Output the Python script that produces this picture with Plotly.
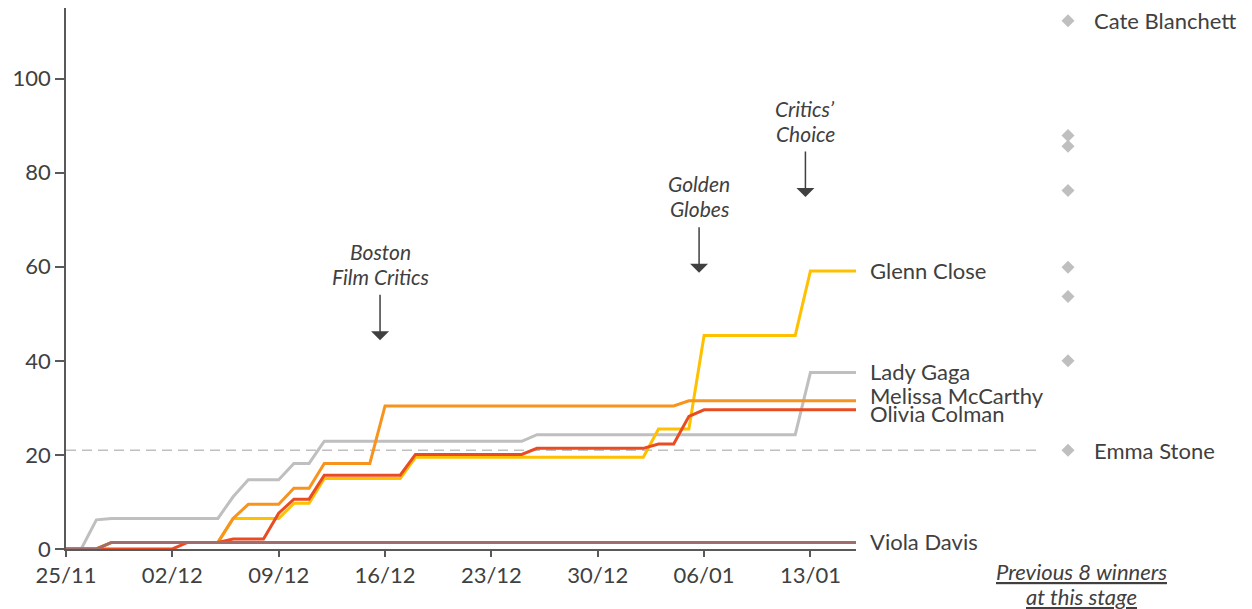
import plotly.graph_objects as go
import pandas as pd

# ---------------- data ----------------
dates = pd.date_range("2018-11-25", "2019-01-16", freq="D")

glenn_close = [0, 0, 0, 1.4, 1.4, 1.4, 1.4, 1.4, 1.4, 1.4, 1.4,
               6.5, 6.5, 6.5, 6.5, 9.7, 9.7,
               15.0, 15.0, 15.0, 15.0, 15.0, 15.0,
               19.5, 19.5, 19.5, 19.5, 19.5, 19.5, 19.5, 19.5,
               19.5, 19.5, 19.5, 19.5, 19.5, 19.5, 19.5, 19.5,
               25.5, 25.5, 25.5,
               45.4, 45.4, 45.4, 45.4, 45.4, 45.4, 45.4,
               59.1, 59.1, 59.1, 59.1]

lady_gaga = [0, 0, 6.2, 6.5, 6.5, 6.5, 6.5, 6.5, 6.5, 6.5, 6.5,
             11.1, 14.7, 14.7, 14.7, 18.2, 18.2,
             22.9, 22.9, 22.9, 22.9, 22.9, 22.9, 22.9,
             22.9, 22.9, 22.9, 22.9, 22.9, 22.9, 22.9,
             24.3, 24.3, 24.3, 24.3, 24.3, 24.3, 24.3, 24.3, 24.3,
             24.3, 24.3, 24.3, 24.3, 24.3, 24.3, 24.3, 24.3, 24.3,
             37.5, 37.5, 37.5, 37.5]

melissa_mccarthy = [0, 0, 0, 1.4, 1.4, 1.4, 1.4, 1.4, 1.4, 1.4, 1.4,
                    6.5, 9.5, 9.5, 9.5, 12.9, 12.9,
                    18.2, 18.2, 18.2, 18.2,
                    30.4, 30.4, 30.4, 30.4, 30.4, 30.4, 30.4, 30.4, 30.4, 30.4,
                    30.4, 30.4, 30.4, 30.4, 30.4, 30.4, 30.4, 30.4, 30.4, 30.4,
                    31.5, 31.5, 31.5, 31.5, 31.5, 31.5, 31.5, 31.5, 31.5, 31.5,
                    31.5, 31.5]

olivia_colman = [0, 0, 0, 0, 0, 0, 0, 0, 1.4, 1.4, 1.4,
                 2.1, 2.1, 2.1, 7.6, 10.6, 10.6,
                 15.7, 15.7, 15.7, 15.7, 15.7, 15.7,
                 20.1, 20.1, 20.1, 20.1, 20.1, 20.1, 20.1, 20.1,
                 21.4, 21.4, 21.4, 21.4, 21.4, 21.4, 21.4, 21.4,
                 22.3, 22.3, 28.2,
                 29.6, 29.6, 29.6, 29.6, 29.6, 29.6, 29.6, 29.6, 29.6, 29.6, 29.6]

viola_davis = [0, 0, 0, 1.4, 1.4, 1.4, 1.4, 1.4, 1.4, 1.4, 1.4,
               1.4, 1.4, 1.4, 1.4, 1.4, 1.4, 1.4, 1.4, 1.4, 1.4,
               1.4, 1.4, 1.4, 1.4, 1.4, 1.4, 1.4, 1.4, 1.4, 1.4,
               1.4, 1.4, 1.4, 1.4, 1.4, 1.4, 1.4, 1.4, 1.4, 1.4,
               1.4, 1.4, 1.4, 1.4, 1.4, 1.4, 1.4, 1.4, 1.4, 1.4,
               1.4, 1.4]

previous_winner_scores = [112.3, 87.9, 85.6, 76.2, 59.9, 53.7, 40.0, 21.0]
previous_top_name = "Cate Blanchett"
previous_bottom_name = "Emma Stone"
previous_category = "Previous 8 winners"
previous_caption = ["Previous 8 winners", "at this stage"]

events = [("Boston", "Film Critics"), ("Golden", "Globes"), ("Critics’", "Choice")]
event_dates = ["2018-12-16", "2019-01-06", "2019-01-13"]
event_levels = [44.4, 58.7, 74.8]

y_ticks = [0, 20, 40, 60, 80, 100]

# ---------------- styling ----------------
FONT = "Lato, 'Open Sans', sans-serif"
TXT = "#404040"
AX = "#595959"

series = [
    ("Lady Gaga", lady_gaga, "#BFBFBF", 1),
    ("Glenn Close", glenn_close, "#FFC000", 0),
    ("Melissa McCarthy", melissa_mccarthy, "#F7941E", 5),
    ("Olivia Colman", olivia_colman, "#E94B22", -4),
    ("Viola Davis", viola_davis, "#A06C6C", 1),
]

fig = go.Figure()
for name, vals, color, _ in series:
    fig.add_trace(go.Scatter(x=dates, y=vals, mode="lines", name=name,
                             line=dict(color=color, width=3),
                             showlegend=False))

fig.add_trace(go.Scatter(x=[previous_category] * len(previous_winner_scores),
                         y=previous_winner_scores, mode="markers",
                         marker=dict(symbol="diamond", size=10, color="#BFBFBF"),
                         xaxis="x2", yaxis="y", showlegend=False))

# page has an 8px body margin: figure is offset by (8, 8)
OFF = 8
W, H = 1252 - OFF, 609 - OFF
PLOT_L, PLOT_R, PLOT_T, PLOT_B = 66, 1240, 8, 549   # target page pixels
ml = PLOT_L - OFF
mt = PLOT_T - OFF
mr = W - (PLOT_R - OFF)
mb = H - (PLOT_B - OFF)
pw = PLOT_R - PLOT_L
ph = PLOT_B - PLOT_T

def px_to_paper_x(px):
    return (px - PLOT_L) / pw

annotations = []
# series end labels
for name, vals, color, yshift in series:
    annotations.append(dict(x=dates[-1], y=vals[-1], xref="x", yref="y",
                            text=name, showarrow=False, xanchor="left",
                            yanchor="middle", xshift=12, yshift=yshift,
                            font=dict(family=FONT, size=22, color=TXT)))

# previous winner labels
annotations.append(dict(x=0, y=max(previous_winner_scores), xref="x2", yref="y",
                        text=previous_top_name, showarrow=False, xanchor="left",
                        yanchor="middle", xshift=24,
                        font=dict(family=FONT, size=22, color=TXT)))
annotations.append(dict(x=0, y=min(previous_winner_scores), xref="x2", yref="y",
                        text=previous_bottom_name, showarrow=False, xanchor="left",
                        yanchor="middle", xshift=24,
                        font=dict(family=FONT, size=22, color=TXT)))
for i, line in enumerate(previous_caption):
    annotations.append(dict(x=px_to_paper_x(1081), y=-(22 + 25 * i) / ph,
                            xref="paper", yref="paper",
                            text="<i><u>" + line + "</u></i>",
                            showarrow=False, xanchor="center", yanchor="middle",
                            font=dict(family=FONT, size=22, color=TXT)))

# event markers
for (l1, l2), d, lvl in zip(events, event_dates, event_levels):
    annotations.append(dict(x=d, y=lvl, xref="x", yref="y", text="",
                            showarrow=True, ax=0, ay=-47, xshift=-5,
                            arrowhead=1, arrowsize=2.0, arrowwidth=1.5,
                            arrowcolor=TXT, standoff=0))
    for txt, ys in ((l1, 89), (l2, 64)):
        annotations.append(dict(x=d, y=lvl, xref="x", yref="y", text="<i>" + txt + "</i>",
                                showarrow=False, xanchor="center", yanchor="middle",
                                xshift=-5, yshift=ys,
                                font=dict(family=FONT, size=21, color=TXT)))

shapes = [dict(type="line", xref="paper", yref="y", x0=0, x1=px_to_paper_x(1040),
               y0=min(previous_winner_scores), y1=min(previous_winner_scores),
               line=dict(color="#BFBFBF", width=1.5, dash="10px,6px"), layer="below")]

fig.update_layout(
    width=W, height=H,
    margin=dict(l=ml, r=mr, t=mt, b=mb, pad=0),
    paper_bgcolor="white", plot_bgcolor="white",
    showlegend=False,
    annotations=annotations,
    shapes=shapes,
    xaxis=dict(type="date", domain=[0, px_to_paper_x(856)],
               range=[dates[0], dates[-1]],
               tick0="2018-11-25", dtick=7 * 86400000, tickformat="%d/%m",
               showline=True, linecolor=AX, linewidth=1.5,
               ticks="outside", ticklen=6, tickwidth=1.5, tickcolor=AX,
               showgrid=False, zeroline=False,
               tickfont=dict(family=FONT, size=22, color=TXT), anchor="y"),
    xaxis2=dict(type="category", domain=[px_to_paper_x(900), px_to_paper_x(1236)],
                range=[-0.5, 0.5], visible=False, anchor="y"),
    yaxis=dict(range=[0, 115], tickvals=y_ticks,
               showline=True, linecolor=AX, linewidth=1.5,
               ticks="outside", ticklen=9, tickwidth=1.5, tickcolor=AX,
               showgrid=False, zeroline=False,
               tickfont=dict(family=FONT, size=22, color=TXT)),
)

fig.write_html("out.html")
